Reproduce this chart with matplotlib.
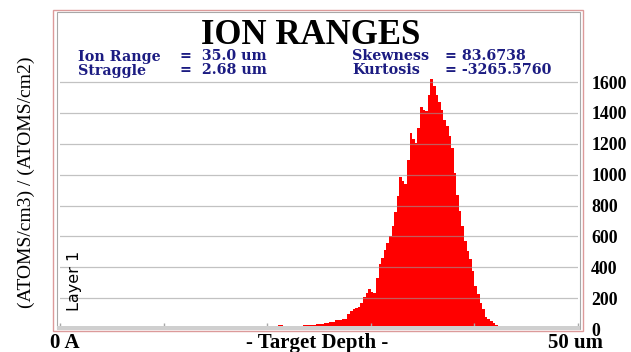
import matplotlib
matplotlib.use('Agg')
import matplotlib.pyplot as plt
from matplotlib.patches import Rectangle
import numpy as np

W, H = 631, 352

# ion distribution, 0.25 um bins starting at 21.0 um
bin_width = 0.25
first_depth = 21.0
counts = [24, 25, 22, 0, 0, 0, 0, 20, 21, 22, 23,
          25, 26, 27, 29, 30, 31, 32, 38, 42, 44,
          46, 58, 60, 61, 62, 66, 95, 118, 132, 138,
          140, 170, 210, 235, 259, 240, 235, 330, 420, 460,
          510, 555, 600, 670, 760, 860, 986, 960, 937, 1098,
          1271, 1228, 1206, 1303, 1437, 1422, 1411, 1519, 1623, 1573,
          1515, 1471, 1422, 1357, 1314, 1250, 1170, 1008, 870, 764,
          667, 570, 505, 451, 375, 278, 225, 170, 127, 80,
          62, 52, 40, 28, 22, 18]

grid_levels = [200, 400, 600, 800, 1000, 1200, 1400, 1600]
count_ticks = [0, 200, 400, 600, 800, 1000, 1200, 1400, 1600]
depth_ticks = [0, 10, 20, 30, 40, 50]

stats_left = [('Ion Range', '=  35.0 um'), ('Straggle', '=  2.68 um')]
stats_right = [('Skewness', '= 83.6738'), ('Kurtosis', '= -3265.5760')]

SERIF = ['Liberation Serif', 'DejaVu Serif']
WIDE_SERIF = ['DejaVu Serif']
NAVY = '#1c1c82'


def fx(x):
    return x / W


def fy(y):
    return 1 - y / H


fig = plt.figure(figsize=(W / 100, H / 100), dpi=100)

# plot area (pixel box 60..578 x 12..329)
ax = fig.add_axes([fx(60), fy(329), (578 - 60) / W, (329 - 12) / H])
edges = first_depth + np.arange(len(counts) + 1) * bin_width
ax.stairs(counts, edges, fill=True, color='#ff0000', zorder=1)

ax.set_xlim(0, 50)
ax.set_ylim(0, 2054)
ax.set_xticks(depth_ticks)
ax.set_xticklabels([])
ax.tick_params(axis='x', direction='in', length=4.5, width=1, color='#a8a8a8')
ax.yaxis.tick_right()
ax.set_yticks(count_ticks)
ax.set_yticklabels([str(v) for v in count_ticks], fontfamily=SERIF,
                   fontweight='bold', fontsize=12.8)
ax.tick_params(axis='y', length=0, pad=9.5)
for v in grid_levels:
    ax.axhline(v, color='#9a9a9a', alpha=0.6, lw=0.9, zorder=2.5)
for s in ax.spines.values():
    s.set_visible(False)
ax.patch.set_alpha(0)

# frames and bottom bar
fig.patches.append(Rectangle((fx(53), fy(331)), (583 - 53) / W, (331 - 10) / H,
                             transform=fig.transFigure, fill=False,
                             ec='#dc9a9a', lw=1.0, zorder=0))
fig.patches.append(Rectangle((fx(57), fy(328.5)), (580 - 57) / W, (328.5 - 12) / H,
                             transform=fig.transFigure, fill=False,
                             ec='#a8a8a8', lw=0.8, zorder=0))
fig.patches.append(Rectangle((fx(57), fy(329.5)), (580 - 57) / W, 3.5 / H,
                             transform=fig.transFigure, color='#cfcfcf',
                             lw=0, zorder=5))

# title and statistics
fig.text(fx(311), fy(44.5), 'ION RANGES', family=SERIF, fontweight='bold',
         fontsize=25, ha='center', va='baseline')
for col, rows in ((78, stats_left), (352, stats_right)):
    val_x = 180 if col == 78 else 445
    for i, (name, val) in enumerate(rows):
        yb = fy(60.5 + 14 * i)
        fig.text(fx(col), yb, name, family=WIDE_SERIF, fontweight='bold',
                 fontsize=10.3, color=NAVY, va='baseline')
        fig.text(fx(val_x), yb, val, family=WIDE_SERIF, fontweight='bold',
                 fontsize=10.3, color=NAVY, va='baseline')

# axis captions
fig.text(fx(50), fy(348), '0 A', family=SERIF, fontweight='bold',
         fontsize=15, va='baseline')
fig.text(fx(317), fy(348), '- Target Depth -', family=SERIF,
         fontweight='bold', fontsize=15, ha='center', va='baseline')
fig.text(fx(603), fy(348), '50 um', family=SERIF, fontweight='bold',
         fontsize=15, ha='right', va='baseline')
fig.text(fx(26), fy(182), '(ATOMS/cm3) / (ATOMS/cm2)',
         family=SERIF, fontsize=14, rotation=90, ha='center', va='center')
fig.text(fx(74), fy(281), 'Layer 1',
         family=['Liberation Sans Narrow', 'DejaVu Sans'], fontsize=11.5,
         rotation=90, ha='center', va='center')

fig.savefig('out.png', dpi=100)
